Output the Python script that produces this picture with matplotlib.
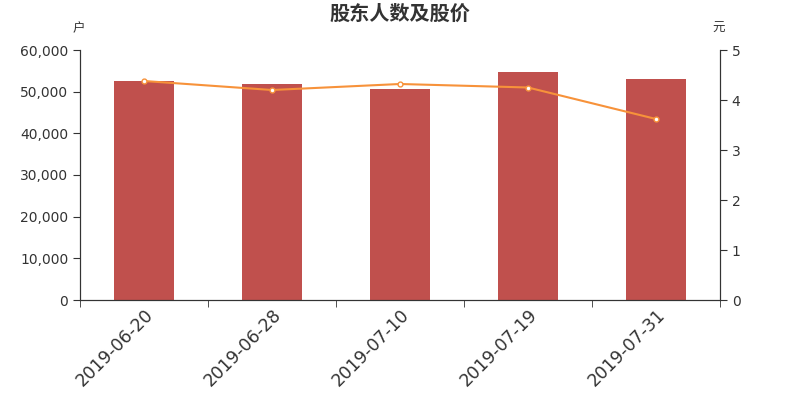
import matplotlib.pyplot as plt
from matplotlib.ticker import FuncFormatter, FixedLocator

plt.rcParams['font.family'] = ['DejaVu Sans', 'Noto Sans CJK SC']

dates = ['2019-06-20', '2019-06-28', '2019-07-10', '2019-07-19', '2019-07-31']
holders = [52680, 51960, 50640, 54720, 53160]
price = [4.38, 4.20, 4.32, 4.25, 3.62]

fig = plt.figure(figsize=(8, 4), dpi=100)
ax = fig.add_axes([0.1, 0.25, 0.8, 0.625])
ax2 = ax.twinx()

x = list(range(len(dates)))
ax.bar(x, holders, width=0.47, color='#c0504d', zorder=2)
ax2.plot(x, price, color='#f7923a', lw=1.5, marker='o', ms=3.5,
         mfc='white', mec='#f7923a', mew=1, zorder=3)

ax.set_xlim(-0.5, len(dates) - 0.5)
ax.set_ylim(0, 60000)
ax2.set_ylim(0, 5)
ax.set_yticks(range(0, 60001, 10000))
ax.yaxis.set_major_formatter(FuncFormatter(lambda v, p: '{:,.0f}'.format(v)))
ax2.set_yticks(range(0, 6))

ax.set_xticks(x)
ax.set_xticklabels(dates, rotation=45, ha='right', rotation_mode='anchor',
                   fontsize=12.5, color='#333333')
ax.xaxis.set_minor_locator(FixedLocator([i - 0.5 for i in range(len(dates) + 1)]))
ax.tick_params(axis='x', which='major', length=0, pad=4)
ax.tick_params(axis='x', which='minor', length=5, color='#333333')
ax.tick_params(axis='y', labelsize=10, labelcolor='#333333', length=5, color='#333333')
ax2.tick_params(axis='y', labelsize=10, labelcolor='#333333', length=5, color='#333333')

for a in (ax, ax2):
    a.spines['top'].set_visible(False)
    for s in ('left', 'right', 'bottom'):
        a.spines[s].set_color('#333333')

fig.text(0.5, 0.965, '股东人数及股价', ha='center', va='center',
         fontsize=14.5, fontweight='bold', color='#333333')
fig.text(0.098, 0.928, '户', ha='center', va='center', fontsize=9, color='#333333')
fig.text(0.898, 0.928, '元', ha='center', va='center', fontsize=9, color='#333333')

fig.savefig('out.png', dpi=100)
